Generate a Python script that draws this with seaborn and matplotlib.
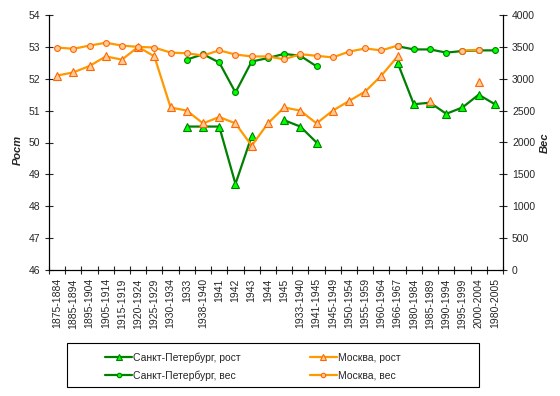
import matplotlib
matplotlib.use("Agg")
import matplotlib.pyplot as plt
from matplotlib.patches import Rectangle
import numpy as np
import pandas as pd
import seaborn as sns

periods = [
    "1875-1884", "1885-1894", "1895-1904", "1905-1914", "1915-1919", "1920-1924",
    "1925-1929", "1930-1934", "1933", "1938-1940", "1941", "1942", "1943", "1944",
    "1945", "1933-1940", "1941-1945", "1945-1949", "1950-1954", "1955-1959",
    "1960-1964", "1966-1967", "1980-1984", "1985-1989", "1990-1994", "1995-1999",
    "2000-2004", "1980-2005",
]
N = None
spb_height = [N, N, N, N, N, N, N, N, 50.5, 50.5, 50.5, 48.7, 50.2, N, 50.7, 50.5,
              50.0, N, N, N, N, 52.5, 51.2, 51.25, 50.9, 51.1, 51.5, 51.2]
msk_height = [52.1, 52.2, 52.4, 52.7, 52.6, 53.0, 52.7, 51.1, 51.0, 50.6, 50.8, 50.6,
              49.9, 50.6, 51.1, 51.0, 50.6, 51.0, 51.3, 51.6, 52.1, 52.7, N, 51.3,
              N, N, 51.9, N]
spb_weight = [N, N, N, N, N, N, N, N, 3300, 3385, 3255, 2785, 3270, 3325, 3390, 3360,
              3195, N, N, N, N, 3510, 3460, 3460, 3410, 3435, 3445, 3445]
msk_weight = [3490, 3470, 3520, 3565, 3520, 3500, 3490, 3410, 3400, 3365, 3445, 3380,
              3350, 3350, 3305, 3385, 3360, 3335, 3425, 3475, 3445, 3520, N, N,
              N, 3440, 3455, N]


def to_frame(values):
    # split into contiguous runs so gaps are not bridged
    df = pd.DataFrame({"pos": np.arange(len(values)), "value": pd.array(values, dtype="Float64")})
    missing = df["value"].isna()
    df["seg"] = missing.cumsum()
    return df[~missing].astype({"value": float})


sns.set_theme(style="white")
plt.rcParams["font.family"] = ["Liberation Sans", "DejaVu Sans"]
FS = 7.5

fig = plt.figure(figsize=(5.6, 3.96), dpi=100)
ax = fig.add_axes([49 / 560, 1 - 270 / 396, 454 / 560, 255 / 396])
ax2 = ax.twinx()

green, green_fill = "#008000", "#00FF00"
orange, orange_fill, orange_edge = "#FF9900", "#FFCC99", "#FF6600"

series = [
    (ax, spb_height, green, "^", green_fill, green, 5.5, "Санкт-Петербург, рост"),
    (ax, msk_height, orange, "^", orange_fill, orange_edge, 5.5, "Москва, рост"),
    (ax2, spb_weight, green, "o", green_fill, green, 4.2, "Санкт-Петербург, вес"),
    (ax2, msk_weight, orange, "o", orange_fill, orange_edge, 4.2, "Москва, вес"),
]
handles = {}
for target, vals, lc, mk, mfc, mec, ms, label in series:
    sns.lineplot(data=to_frame(vals), x="pos", y="value", units="seg", estimator=None,
                 color=lc, linewidth=1.6, marker=mk, markersize=ms,
                 markerfacecolor=mfc, markeredgecolor=mec, markeredgewidth=0.8,
                 ax=target, legend=False)
    handles[label] = plt.Line2D([], [], color=lc, linewidth=1.6, marker=mk,
                                markersize=ms - 1, markerfacecolor=mfc,
                                markeredgecolor=mec, markeredgewidth=0.8)

ax.set_xlim(-0.5, len(periods) - 0.5)
ax.set_ylim(46, 54)
ax2.set_ylim(0, 4000)
ax.set_yticks(range(46, 55))
ax2.set_yticks(range(0, 4001, 500))
ax.set_xticks(range(len(periods)))
ax.set_xticklabels(periods, rotation=90, fontsize=FS)
ax.set_xticks(np.arange(-0.5, len(periods)), minor=True)
ax.tick_params(axis="x", which="major", length=0, pad=6)
ax.tick_params(axis="x", which="minor", length=6, width=0.8, direction="inout", bottom=True)
ax.tick_params(axis="y", length=6, width=0.8, direction="inout", left=True, labelsize=FS)
ax2.tick_params(axis="y", length=6, width=0.8, direction="inout", right=True, labelsize=FS)
ax.set_xlabel("")
ax.set_ylabel("")
ax2.set_ylabel("")

for a in (ax, ax2):
    a.spines["top"].set_visible(False)
    for s in ("left", "right", "bottom"):
        a.spines[s].set_color("black")
        a.spines[s].set_linewidth(0.8)

fig.text(18 / 560, 1 - 150 / 396, "Рост", rotation=90, ha="center", va="center",
         fontsize=8, fontweight="bold", fontstyle="italic")
fig.text(545 / 560, 1 - 143 / 396, "Вес", rotation=90, ha="center", va="center",
         fontsize=8, fontweight="bold", fontstyle="italic")

fig.patches.append(Rectangle((66.5 / 560, 1 - 387 / 396), 412.5 / 560, 44 / 396,
                             transform=fig.transFigure, fill=False,
                             edgecolor="black", linewidth=0.8))
order = ["Санкт-Петербург, рост", "Санкт-Петербург, вес", "Москва, рост", "Москва, вес"]
fig.legend([handles[k] for k in order], order, loc="upper left",
           bbox_to_anchor=(98 / 560, 1 - 345 / 396), ncol=2, frameon=False,
           fontsize=FS, handlelength=2.6, handletextpad=0.1, columnspacing=6.6,
           labelspacing=0.75, borderpad=0.2)

fig.savefig("out.png", dpi=100)
